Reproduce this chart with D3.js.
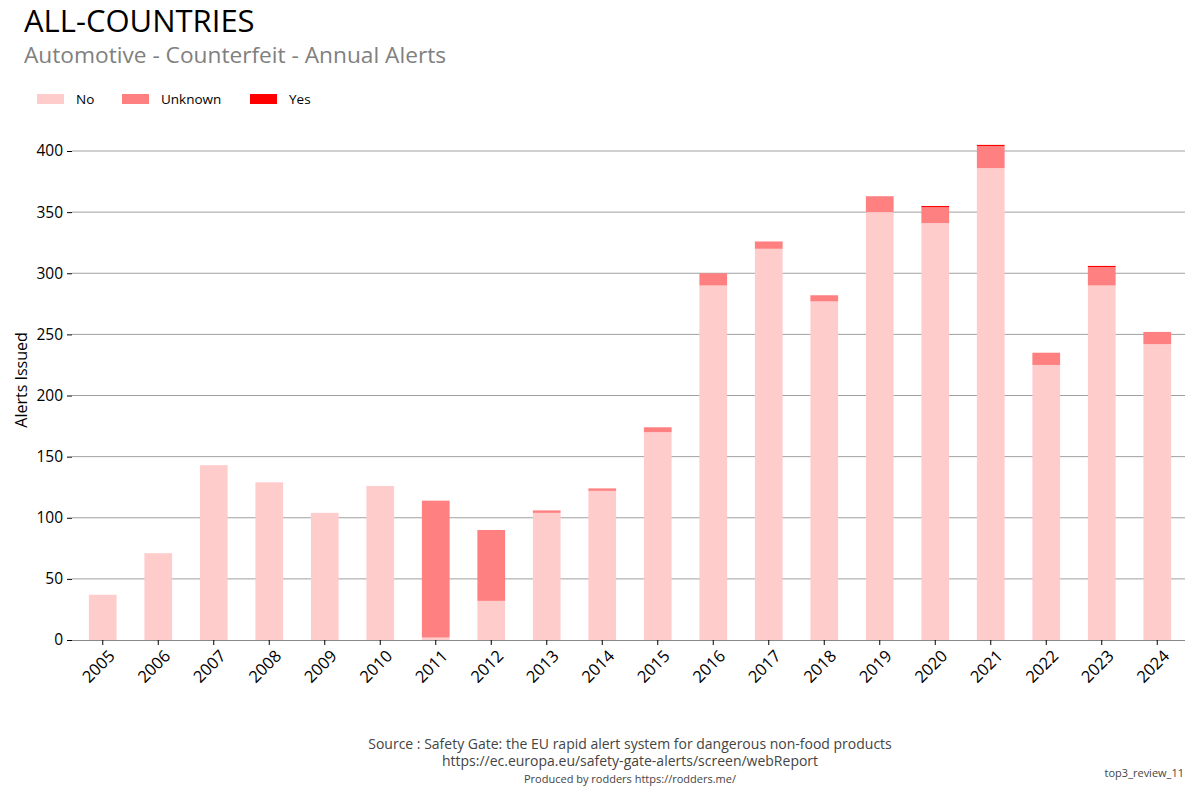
<!DOCTYPE html>
<html>
<head>
<meta charset="utf-8">
<script src="https://cdn.jsdelivr.net/npm/d3@7"></script>
<style>
  body { margin: 0; background: #fff; }
  svg { font-family: "Open Sans", sans-serif; }
</style>
</head>
<body>
<div id="chart"></div>
<script>
const years = ["2005","2006","2007","2008","2009","2010","2011","2012","2013","2014",
               "2015","2016","2017","2018","2019","2020","2021","2022","2023","2024"];
const noVals      = [37, 71, 143, 129, 104, 126, 2, 32, 104, 122, 170, 290, 320, 277, 350, 341, 386, 225, 290, 242];
const unknownVals = [0, 0, 0, 0, 0, 0, 112, 58, 2, 2, 4, 10, 6, 5, 13, 13, 18, 10, 15, 10];
const yesVals     = [0, 0, 0, 0, 0, 0, 0, 0, 0, 0, 0, 0, 0, 0, 0, 1, 1, 0, 1, 0];
const seriesNames = ["No", "Unknown", "Yes"];
const yTicks = [0, 50, 100, 150, 200, 250, 300, 350, 400];

const width = 1200, height = 800;
const svg = d3.select("#chart").append("svg").attr("width", width).attr("height", height);

const color = d3.scaleOrdinal().domain(seriesNames).range(["#ffcccc", "#ff8080", "#ff0000"]);

const rows = years.map((y, i) => ({ year: y, No: noVals[i], Unknown: unknownVals[i], Yes: yesVals[i] }));
const stacked = d3.stack().keys(seriesNames)(rows);

const x = d3.scaleBand().domain(years).range([75, 1185]).paddingInner(0.5).paddingOuter(0.25);
const y = d3.scaleLinear().domain([0, 400]).range([640, 151]);

// gridlines
svg.append("g")
  .selectAll("line")
  .data(yTicks.slice(1))
  .join("line")
  .attr("x1", 72).attr("x2", 1185)
  .attr("y1", d => y(d)).attr("y2", d => y(d))
  .attr("stroke", "#a0a0a0").attr("stroke-width", 1);

// bars
svg.append("g")
  .selectAll("g")
  .data(stacked)
  .join("g")
  .attr("fill", d => color(d.key))
  .selectAll("rect")
  .data(d => d)
  .join("rect")
  .attr("x", d => x(d.data.year))
  .attr("width", x.bandwidth())
  .attr("y", d => y(d[1]))
  .attr("height", d => y(d[0]) - y(d[1]));

// y axis
const yAxis = svg.append("g")
  .attr("transform", "translate(72,0)")
  .call(d3.axisLeft(y).tickValues(yTicks).tickSize(5).tickPadding(4));
yAxis.select(".domain").remove();
yAxis.selectAll("text").attr("font-size", 15.5).attr("fill", "#000").attr("font-family", "Open Sans");

// x axis
const xAxis = svg.append("g")
  .attr("transform", "translate(0,640)")
  .call(d3.axisBottom(x).tickSize(5));
xAxis.select(".domain").attr("d", "M72,0.5H1185").attr("stroke", "#888");
xAxis.selectAll("text")
  .attr("font-size", 16.5).attr("fill", "#000").attr("font-family", "Open Sans")
  .attr("text-anchor", "end")
  .attr("x", 0).attr("y", 0).attr("dx", 0).attr("dy", "0.35em")
  .attr("transform", "translate(9,13) rotate(-45)");

// y label
svg.append("text")
  .attr("transform", "translate(27,380) rotate(-90)")
  .attr("text-anchor", "middle")
  .attr("font-size", 16)
  .text("Alerts Issued");

// titles
svg.append("text").attr("x", 24).attr("y", 32).attr("font-size", 31).attr("fill", "#000").text("ALL-COUNTRIES");
svg.append("text").attr("x", 24).attr("y", 63).attr("font-size", 22.7).attr("fill", "#808080")
  .text("Automotive - Counterfeit - Annual Alerts");

// legend
const legendX = [37, 122, 250];
const legend = svg.append("g").selectAll("g").data(seriesNames).join("g")
  .attr("transform", (d, i) => `translate(${legendX[i]},94)`);
legend.append("rect").attr("width", 27).attr("height", 10).attr("fill", d => color(d));
legend.append("text").attr("x", 39).attr("y", 5).attr("dy", "0.35em").attr("font-size", 13.5).text(d => d);

// footer
svg.append("text").attr("x", 630).attr("y", 749).attr("text-anchor", "middle").attr("font-size", 14).attr("fill", "#444")
  .text("Source : Safety Gate: the EU rapid alert system for dangerous non-food products");
svg.append("text").attr("x", 630).attr("y", 766).attr("text-anchor", "middle").attr("font-size", 14).attr("fill", "#444")
  .text("https://ec.europa.eu/safety-gate-alerts/screen/webReport");
svg.append("text").attr("x", 630).attr("y", 783).attr("text-anchor", "middle").attr("font-size", 11).attr("fill", "#444")
  .text("Produced by rodders https://rodders.me/");
svg.append("text").attr("x", 1184).attr("y", 777).attr("text-anchor", "end").attr("font-size", 11).attr("fill", "#444")
  .text("top3_review_11");
</script>
</body>
</html>
